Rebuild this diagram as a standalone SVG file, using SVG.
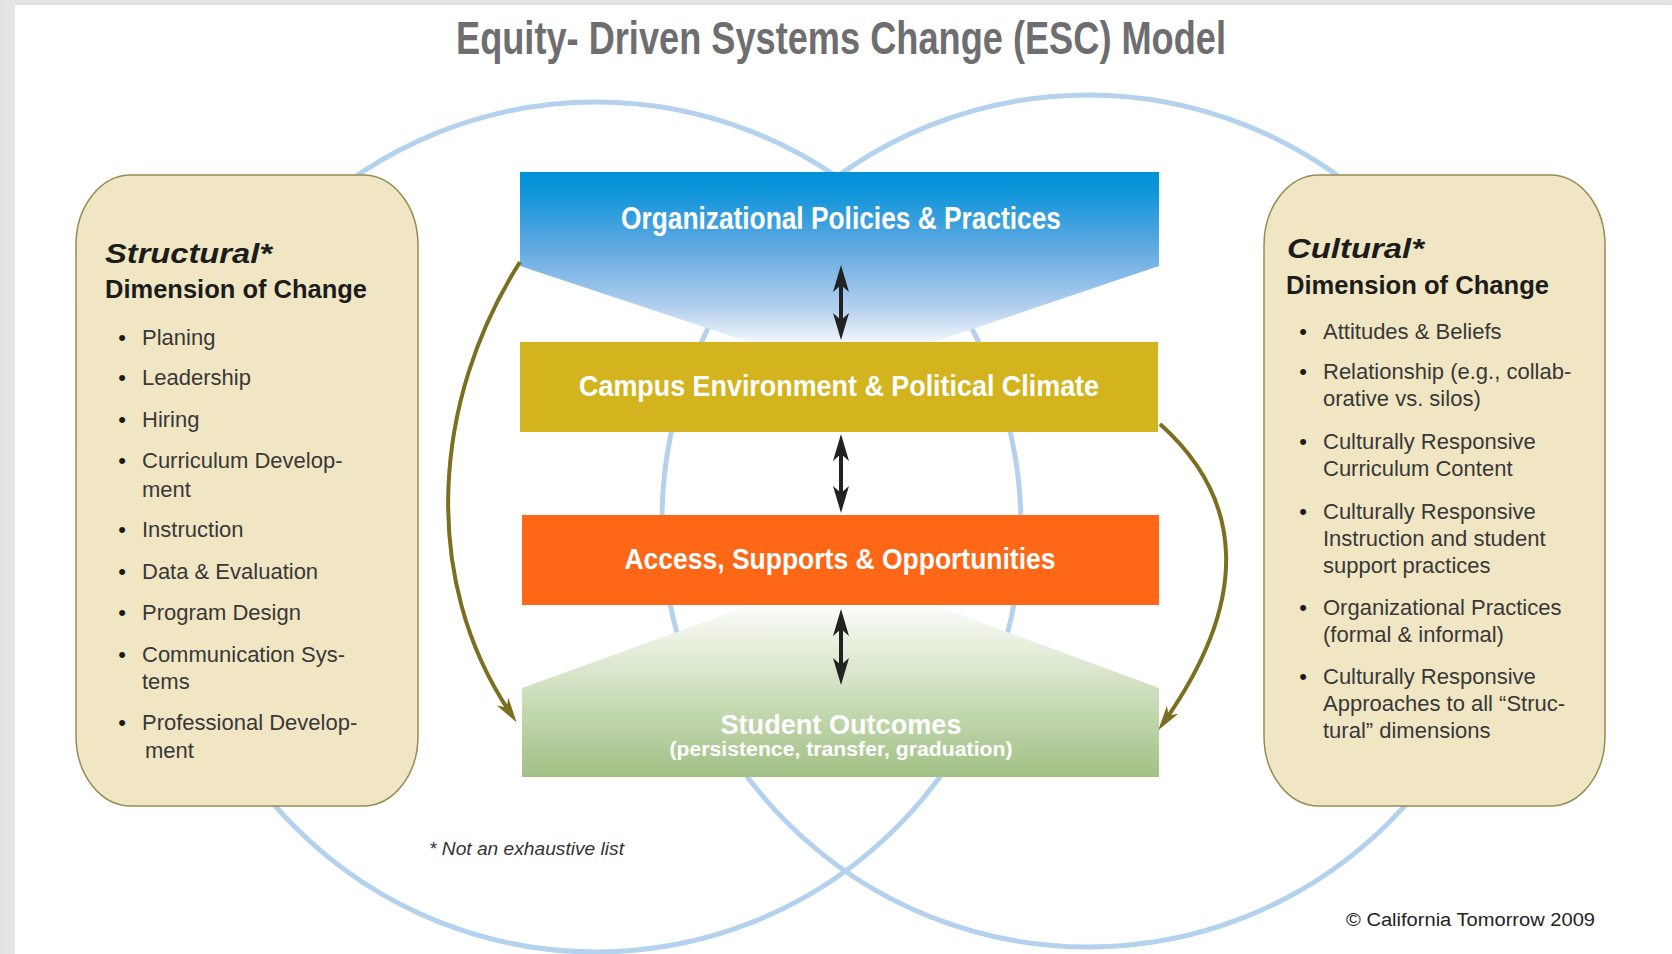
<svg xmlns="http://www.w3.org/2000/svg" width="1672" height="954" viewBox="0 0 1672 954">
  <style>
    .ring { fill: none; stroke: #b4d2ee; stroke-width: 5; }
    .panel { fill: #f0e6c3; stroke: #978b55; stroke-width: 1.5; }
    .hd { font-family: "Liberation Sans", Arial, sans-serif; font-weight: bold; fill: #1c1c1c; }
    .li { font-family: "Liberation Sans", Arial, sans-serif; font-size: 22px; fill: #383838; }
    .bul { font-family: "Liberation Sans", Arial, sans-serif; font-size: 22px; fill: #1a1a1a; text-anchor: middle; }
    .ctr { font-family: "Liberation Sans Narrow", "Liberation Sans", Arial, sans-serif; font-weight: bold; fill: #ffffff; text-anchor: middle; }
    .olive { fill: none; stroke: #7c6f1f; stroke-width: 4; }
    .dbl { stroke: #222222; stroke-width: 4; }
  </style>
  <defs>
    <linearGradient id="gBlue" x1="0" y1="0" x2="0" y2="1">
      <stop offset="0" stop-color="#0091d7"/>
      <stop offset="0.12" stop-color="#0f95da"/>
      <stop offset="0.45" stop-color="#62a9e1"/>
      <stop offset="0.8" stop-color="#b3d0ee"/>
      <stop offset="1" stop-color="#f1f6fc"/>
    </linearGradient>
    <linearGradient id="gGreen" x1="0" y1="0" x2="0" y2="1">
      <stop offset="0" stop-color="#fbfcf8"/>
      <stop offset="0.45" stop-color="#d3e2c3"/>
      <stop offset="1" stop-color="#a1c085"/>
    </linearGradient>
    <linearGradient id="gEdge" x1="0" y1="0" x2="1" y2="0">
      <stop offset="0" stop-color="#e2e1e0"/>
      <stop offset="1" stop-color="#e8e7e6"/>
    </linearGradient>
    <marker id="oliveHead" viewBox="-26 -8 28 16" refX="-10" refY="0" markerWidth="28" markerHeight="16" markerUnits="userSpaceOnUse" orient="auto">
      <path d="M0,0 L-25,-7 L-18,0 L-25,7 Z" fill="#7c6f1f"/>
    </marker>
    <marker id="blackHead" viewBox="-28 -9 30 18" refX="-8" refY="0" markerWidth="30" markerHeight="18" markerUnits="userSpaceOnUse" orient="auto-start-reverse">
      <path d="M0,0 L-27,-8 L-20,0 L-27,8 Z" fill="#222222"/>
    </marker>
  </defs>

  <rect x="0" y="0" width="1672" height="954" fill="#ffffff"/>
  <rect x="0" y="0" width="1672" height="5" fill="#e4e3e2"/>
  <rect x="0" y="0" width="15" height="954" fill="url(#gEdge)"/>

  <text id="title" x="841" y="54" font-family="Liberation Sans Narrow, Liberation Sans, Arial, sans-serif" font-weight="bold" font-size="47" fill="#6e6e70" text-anchor="middle" textLength="770" lengthAdjust="spacingAndGlyphs">Equity- Driven Systems Change (ESC) Model</text>

  <g id="rings">
    <circle class="ring" cx="596" cy="527" r="425"/>
    <circle class="ring" cx="1088" cy="521" r="426"/>
  </g>

  <g id="structural">
    <rect class="panel" x="76" y="175" width="342" height="631" rx="55" ry="70"/>
    <text class="hd" x="105" y="263" font-size="27" font-style="italic" textLength="167" lengthAdjust="spacingAndGlyphs">Structural*</text>
    <text class="hd" x="105" y="298" font-size="25" textLength="262" lengthAdjust="spacingAndGlyphs">Dimension of Change</text>
    <text class="bul" x="122" y="345">•</text><text class="li" x="142" y="345">Planing</text>
    <text class="bul" x="122" y="385">•</text><text class="li" x="142" y="385">Leadership</text>
    <text class="bul" x="122" y="427">•</text><text class="li" x="142" y="427">Hiring</text>
    <text class="bul" x="122" y="468">•</text><text class="li" x="142" y="468">Curriculum Develop-</text>
    <text class="li" x="142" y="497">ment</text>
    <text class="bul" x="122" y="537">•</text><text class="li" x="142" y="537">Instruction</text>
    <text class="bul" x="122" y="579">•</text><text class="li" x="142" y="579">Data &amp; Evaluation</text>
    <text class="bul" x="122" y="620">•</text><text class="li" x="142" y="620">Program Design</text>
    <text class="bul" x="122" y="662">•</text><text class="li" x="142" y="662">Communication Sys-</text>
    <text class="li" x="142" y="689">tems</text>
    <text class="bul" x="122" y="730">•</text><text class="li" x="142" y="730">Professional Develop-</text>
    <text class="li" x="145" y="758">ment</text>
  </g>

  <g id="cultural">
    <rect class="panel" x="1264" y="175" width="341" height="631" rx="55" ry="70"/>
    <text class="hd" x="1287" y="258" font-size="27" font-style="italic" textLength="137" lengthAdjust="spacingAndGlyphs">Cultural*</text>
    <text class="hd" x="1286" y="294" font-size="25" textLength="263" lengthAdjust="spacingAndGlyphs">Dimension of Change</text>
    <text class="bul" x="1303" y="339">•</text><text class="li" x="1323" y="339">Attitudes &amp; Beliefs</text>
    <text class="bul" x="1303" y="379">•</text><text class="li" x="1323" y="379">Relationship (e.g., collab-</text>
    <text class="li" x="1323" y="406">orative vs. silos)</text>
    <text class="bul" x="1303" y="449">•</text><text class="li" x="1323" y="449">Culturally Responsive</text>
    <text class="li" x="1323" y="476">Curriculum Content</text>
    <text class="bul" x="1303" y="519">•</text><text class="li" x="1323" y="519">Culturally Responsive</text>
    <text class="li" x="1323" y="546">Instruction and student</text>
    <text class="li" x="1323" y="573">support practices</text>
    <text class="bul" x="1303" y="615">•</text><text class="li" x="1323" y="615">Organizational Practices</text>
    <text class="li" x="1323" y="642">(formal &amp; informal)</text>
    <text class="bul" x="1303" y="684">•</text><text class="li" x="1323" y="684">Culturally Responsive</text>
    <text class="li" x="1323" y="711">Approaches to all “Struc-</text>
    <text class="li" x="1323" y="738">tural” dimensions</text>
  </g>

  <g id="policies">
    <polygon points="520,172 1159,172 1159,266 934,342 749,342 520,266" fill="url(#gBlue)"/>
    <text class="ctr" x="841" y="229" font-size="31" textLength="440" lengthAdjust="spacingAndGlyphs">Organizational Policies &amp; Practices</text>
  </g>

  <g id="campus">
    <rect x="520" y="342" width="638" height="90" fill="#d3b41f"/>
    <text class="ctr" x="839" y="396" font-size="30" textLength="520" lengthAdjust="spacingAndGlyphs">Campus Environment &amp; Political Climate</text>
  </g>

  <g id="access">
    <rect x="522" y="515" width="637" height="90" fill="#fe6716"/>
    <text class="ctr" x="840" y="569" font-size="30" textLength="431" lengthAdjust="spacingAndGlyphs">Access, Supports &amp; Opportunities</text>
  </g>

  <g id="outcomes">
    <polygon points="749,606 937,606 1159,688 1159,777 522,777 522,688" fill="url(#gGreen)"/>
    <text class="ctr" x="841" y="734" font-size="27" fill="#f7faf2" textLength="241" lengthAdjust="spacingAndGlyphs">Student Outcomes</text>
    <text class="ctr" x="841" y="756" font-size="20" fill="#f7faf2" textLength="343" lengthAdjust="spacingAndGlyphs">(persistence, transfer, graduation)</text>
  </g>

  <g id="connectors">
    <line class="dbl" x1="841" y1="273" x2="841" y2="332" marker-start="url(#blackHead)" marker-end="url(#blackHead)"/>
    <line class="dbl" x1="841" y1="442" x2="841" y2="505" marker-start="url(#blackHead)" marker-end="url(#blackHead)"/>
    <line class="dbl" x1="841" y1="617" x2="841" y2="677" marker-start="url(#blackHead)" marker-end="url(#blackHead)"/>
    <path class="olive" d="M520,262 C432,400 420,580 511,714" marker-end="url(#oliveHead)"/>
    <path class="olive" d="M1160,424 C1245,500 1250,600 1164,722" marker-end="url(#oliveHead)"/>
  </g>

  <text id="footnote" x="429" y="855" font-family="Liberation Sans, Arial, sans-serif" font-style="italic" font-size="18" fill="#333333" textLength="195" lengthAdjust="spacingAndGlyphs">* Not an exhaustive list</text>
  <text id="copyright" x="1346" y="926" font-family="Liberation Sans, Arial, sans-serif" font-size="18" fill="#222222" textLength="249" lengthAdjust="spacingAndGlyphs">© California Tomorrow 2009</text>
</svg>
